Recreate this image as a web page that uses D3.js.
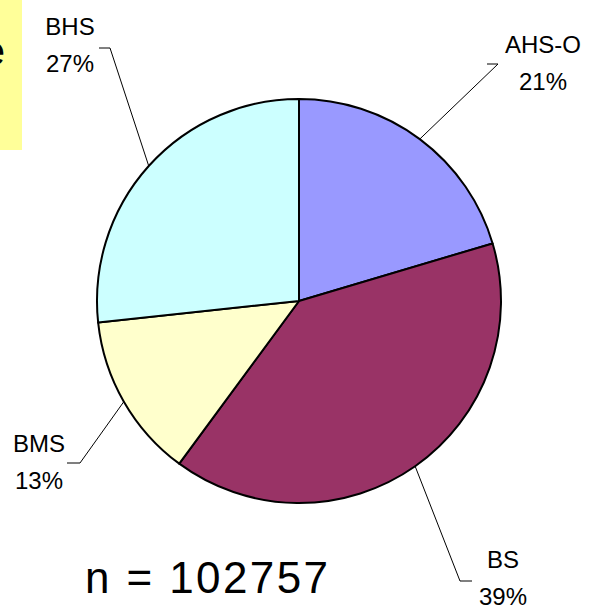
<!DOCTYPE html>
<html>
<head>
<meta charset="utf-8">
<script src="https://cdn.jsdelivr.net/npm/d3@7"></script>
<style>
  html, body { margin: 0; padding: 0; background: #fff; }
  svg { display: block; font-family: "Liberation Sans", Arial, sans-serif; }
</style>
</head>
<body>
<svg id="chart" width="597" height="612"></svg>
<script>
// ---- data ----
const categories = ["AHS-O", "BS", "BMS", "BHS"];
const shares = [20.4, 39.7, 13.2, 26.7];
const percentLabels = ["21%", "39%", "13%", "27%"];
const sliceColors = ["#9999FF", "#993366", "#FFFFCC", "#CCFFFF"];
const totalN = 102757;

// ---- layout ----
const svg = d3.select("#chart");
const cx = 299, cy = 301, r = 202;

// partial yellow note box at top-left (cut off at the picture edge, as in the reference)
svg.append("rect").attr("x", 0).attr("y", 0).attr("width", 22).attr("height", 150)
  .attr("fill", "#FFFF99");
svg.append("text").attr("x", 5).attr("y", 65).attr("text-anchor", "end")
  .attr("font-size", 40).attr("fill", "#000").text("e");

const pie = d3.pie().sort(null).value(d => d)(shares);
const arc = d3.arc().innerRadius(0).outerRadius(r);
const edge = d3.arc().innerRadius(r).outerRadius(r);

const g = svg.append("g").attr("transform", `translate(${cx},${cy})`);
g.selectAll("path.slice").data(pie).enter().append("path")
  .attr("class", "slice")
  .attr("d", arc)
  .attr("fill", (d, i) => sliceColors[i])
  .attr("stroke", "#000").attr("stroke-width", 2).attr("stroke-linejoin", "round");

// label placement (layout only)
const labelLayout = [
  { elbow: [498, 64], end: [487, 64], tx: 543, ty: 53 },   // AHS-O
  { elbow: [460, 581], end: [472, 581], tx: 503, ty: 568 }, // BS
  { elbow: [80, 463], end: [67, 463], tx: 39, ty: 452 },    // BMS
  { elbow: [110, 48], end: [99, 48], tx: 70, ty: 35 }       // BHS
];

pie.forEach((d, i) => {
  const c = edge.centroid(d);
  const p = [cx + c[0], cy + c[1]];
  const L = labelLayout[i];
  svg.append("polyline")
    .attr("points", [p, L.elbow, L.end].map(q => q.join(",")).join(" "))
    .attr("fill", "none").attr("stroke", "#000").attr("stroke-width", 1);
  const t = svg.append("text").attr("text-anchor", "middle")
    .attr("font-size", 24).attr("fill", "#000");
  t.append("tspan").attr("x", L.tx).attr("y", L.ty).text(categories[i]);
  t.append("tspan").attr("x", L.tx).attr("y", L.ty + 37).text(percentLabels[i]);
});

svg.append("text").attr("x", 85).attr("y", 593)
  .attr("font-size", 44).attr("letter-spacing", 2.4).attr("fill", "#000")
  .text("n = " + totalN);
</script>
</body>
</html>
